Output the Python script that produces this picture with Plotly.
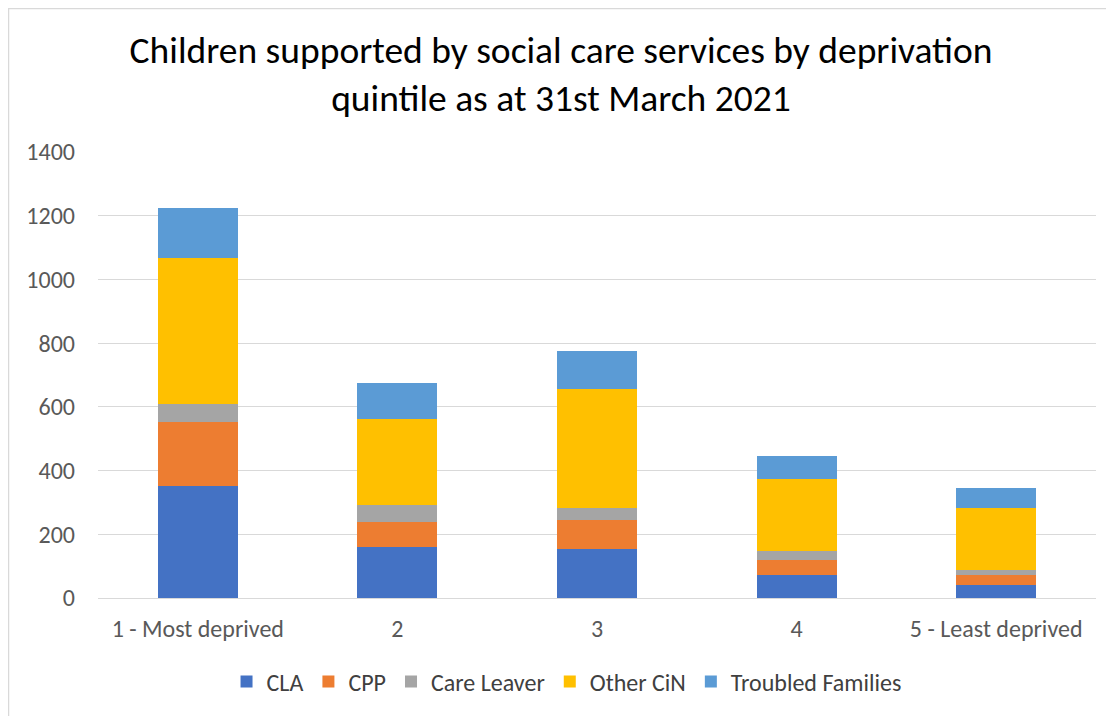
import plotly.graph_objects as go

categories = ["1 - Most deprived", "2", "3", "4", "5 - Least deprived"]
cla = [352, 159, 154, 72, 42]
cpp = [202, 81, 91, 47, 31]
care_leaver = [54, 52, 39, 30, 16]
other_cin = [458, 269, 373, 226, 195]
troubled_families = [159, 115, 119, 72, 60]

series = [
    ("CLA", cla, "#4472C4"),
    ("CPP", cpp, "#ED7D31"),
    ("Care Leaver", care_leaver, "#A5A5A5"),
    ("Other CiN", other_cin, "#FFC000"),
    ("Troubled Families", troubled_families, "#5B9BD5"),
]

font_family = "Carlito, Calibri, 'Open Sans', 'Liberation Sans', sans-serif"

W, H = 1106, 708
ML, MR, MT, MB = 90, 18, 144, 118
PW, PH = W - ML - MR, H - MT - MB

fig = go.Figure()
for name, vals, color in series:
    fig.add_trace(go.Bar(
        x=categories, y=vals, name=name,
        marker=dict(color=color, line=dict(width=0)),
    ))

fig.update_layout(
    barmode="stack",
    bargap=0.6,
    width=W, height=H,
    margin=dict(l=ML, r=MR, t=MT, b=MB),
    paper_bgcolor="white", plot_bgcolor="white",
    font=dict(family=font_family, color="#595959", size=24),
    title=dict(
        text="Children supported by social care services by deprivation<br>quintile as at 31st March 2021",
        x=0.5, xanchor="center", xref="container",
        y=0.923, yanchor="middle",
        font=dict(size=37.5, color="#000000", family=font_family),
    ),
    xaxis=dict(showgrid=False, showline=False, ticks="",
               ticklabelstandoff=14,
               tickfont=dict(size=24, color="#595959")),
    yaxis=dict(range=[0, 1400], dtick=200, showgrid=True, gridcolor="#D9D9D9",
               gridwidth=1, zeroline=True, zerolinecolor="#D9D9D9", zerolinewidth=1,
               ticks="", ticklabelstandoff=22,
               tickfont=dict(size=24, color="#595959")),
    legend=dict(orientation="h", x=0.505, xanchor="center", xref="container",
                y=0.048, yref="container", yanchor="middle",
                font=dict(size=24, color="#404040"), traceorder="normal",
                itemwidth=30),
    showlegend=True,
)

fig.add_shape(type="rect", xref="paper", yref="paper",
              x0=(0.5 - ML) / PW, x1=(W - ML + 10) / PW,
              y0=-(MB + 10) / PH, y1=(PH + MT - 0.5) / PH,
              line=dict(color="#D9D9D9", width=1.5), layer="below")

fig.write_html("out.html")
